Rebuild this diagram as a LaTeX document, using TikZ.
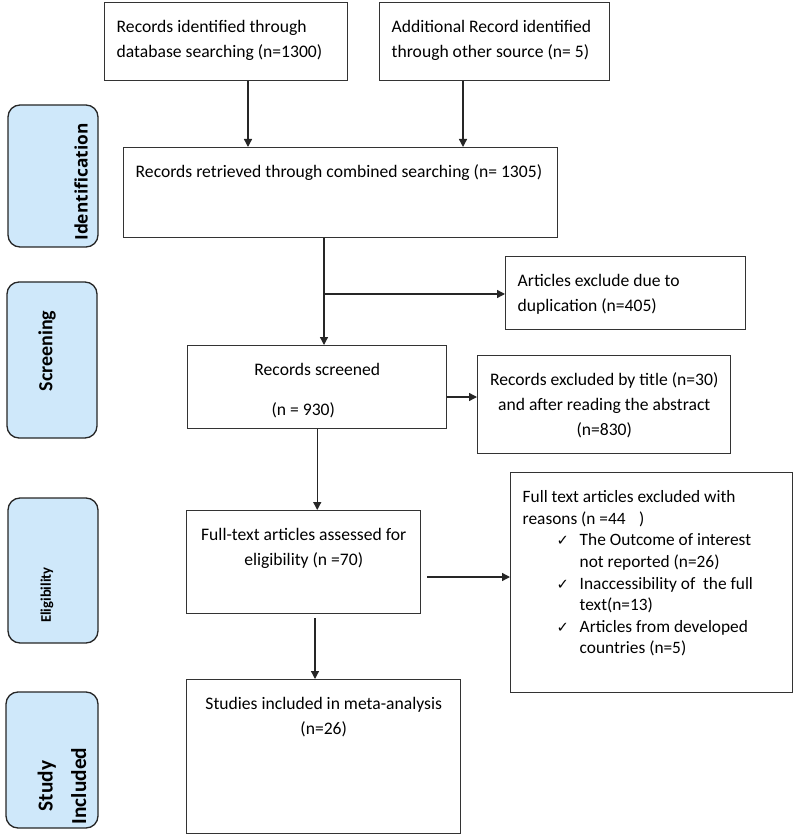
\documentclass[tikz,border=0pt]{standalone}
\usepackage{fontspec}
\setmainfont{Carlito}
\newfontfamily\identfont{Open Sans}
\newfontfamily\tickfont{DejaVu Sans}
\usetikzlibrary{arrows.meta}
\definecolor{stageblue}{RGB}{207,232,250}
\newdimen\pxu \pxu=0.75pt
% text of a flow box: width and height in px, text set from the top
\newcommand{\boxtext}[3]{\parbox[t][\dimexpr#2\pxu-19pt\relax][t]{\dimexpr#1\pxu-18pt\relax}{\strut#3}}
\newcommand{\tick}{\makebox[17.25pt][l]{\tickfont\fontsize{11}{11}\selectfont ✓}}
\begin{document}
\begin{tikzpicture}[x=0.75pt,y=-0.75pt,
  flowbox/.style={draw=black!80,line width=1.1pt,inner xsep=9pt,inner ysep=9.5pt,anchor=north west,font=\fontsize{13.2}{18.5}\selectfont},
  stagebox/.style={draw=black!85,fill=stageblue,line width=1pt,rounded corners=9pt,minimum width=67.5pt},
  stagetext/.style={rotate=90,align=center,inner sep=0pt},
  flowarrow/.style={-{Triangle[length=6pt,width=6pt]},line width=1pt,black!85}]
\useasboundingbox (0,0) rectangle (800,837);
% stages on the left
\node[stagebox,minimum height=106.5pt] (ident) at (53,176) {};
\node[stagetext,font=\identfont\bfseries\fontsize{13}{16}\selectfont] (identlbl) at (81,182) {Identification};
\node[stagebox,minimum height=117pt] (screen) at (52,360) {};
\node[stagetext,font=\bfseries\fontsize{15}{18}\selectfont] (screenlbl) at (47,351) {Screening};
\node[stagebox,minimum height=108.75pt] (eligib) at (53,570.5) {};
\node[stagetext,font=\bfseries\fontsize{11}{13}\selectfont] (eligiblbl) at (47,595) {Eligibility};
\node[stagebox,minimum width=69pt,minimum height=102pt] (study) at (52,760) {};
\node[stagetext,font=\bfseries\fontsize{16}{25}\selectfont] (studylbl) at (62,786) {Study\\Included};
% flow boxes
\node[flowbox] (srcdb) at (104,2) {\boxtext{243}{78}{Records identified through\\database searching (n=1300)}};
\node[flowbox] (srcother) at (379,2) {\boxtext{230}{78}{Additional Record identified\\through other source (n= 5)}};
\node[flowbox] (combined) at (123,147) {\boxtext{434}{90}{Records retrieved through combined searching (n= 1305)}};
\node[flowbox] (dupl) at (505,256) {\boxtext{240}{73}{Articles exclude due to\\duplication (n=405)}};
\node[flowbox] (screened) at (187,345) {\boxtext{259}{83}{\centering Records screened\\[11.5pt]\hspace*{-21pt}(n = 930)}};
\node[flowbox] (titleexcl) at (477,355) {\boxtext{253}{98}{\centering Records excluded by title (n=30)\\and after reading the abstract\\(n=830)}};
\node[flowbox] (fulltext) at (186,510) {\boxtext{234}{103}{\centering Full-text articles assessed for\\eligibility (n =70)}};
\node[flowbox] (ftexcl) at (510,472) {\boxtext{282}{220}{\fontsize{13}{16.2}\selectfont Full text articles excluded with\\
reasons (n =44\hspace{10pt})\\
\hspace*{25.5pt}\tick The Outcome of interest\\
\hspace*{42.75pt}not reported (n=26)\\
\hspace*{25.5pt}\tick Inaccessibility of\ \ the full\\
\hspace*{42.75pt}text(n=13)\\
\hspace*{25.5pt}\tick Articles from developed\\
\hspace*{42.75pt}countries (n=5)}};
\node[flowbox] (included) at (186,679) {\boxtext{274}{154}{\centering Studies included in meta-analysis\\(n=26)}};
% connectors
\coordinate (split) at (324,294);
\coordinate (ftgap) at (427,577);
\coordinate (incgap) at (315,618);
\draw[flowarrow] (srcdb.south -| 248,0) -- (combined.north -| 248,0);
\draw[flowarrow] (srcother.south -| 463,0) -- (combined.north -| 463,0);
\draw[flowarrow] (combined.south -| split) -- (screened.north -| split);
\draw[flowarrow] (split) -- (dupl.west |- split);
\draw[flowarrow] (screened.east |- 0,397) -- (titleexcl.west |- 0,397);
\draw[flowarrow] (screened.south) -- (fulltext.north -| screened.south);
\draw[flowarrow] (ftgap) -- (ftexcl.west |- ftgap);
\draw[flowarrow] (incgap) -- (included.north -| incgap);
\end{tikzpicture}
\end{document}
